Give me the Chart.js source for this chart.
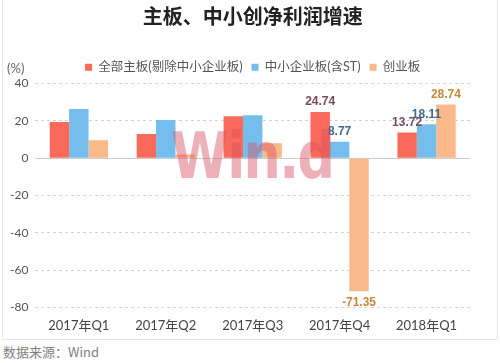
<!DOCTYPE html>
<html>
<head>
<meta charset="utf-8">
<script src="https://cdn.jsdelivr.net/npm/chart.js@4.4.1/dist/chart.umd.min.js"></script>
<style>
    body { margin: 0; background: #fff; width: 500px; height: 363px; overflow: hidden; position: relative; }
    #box { position: absolute; left: 2px; top: 0; width: 494px; height: 339px; border: 1px solid #e8e8e8; border-top: none; }
    #mark { position: absolute; left: 171px; top: 119px; font: bold 64px 'DejaVu Sans', sans-serif; color: rgba(215, 80, 95, 0.45); letter-spacing: -2px; transform: scaleX(0.82); transform-origin: left top; pointer-events: none; }
    #source { position: absolute; left: 3px; top: 342px; font: 13px 'Noto Sans CJK SC', sans-serif; color: #808080; }
</style>
</head>
<body>
<div id="box"><canvas id="profitChart"></canvas></div>
<div id="mark">Win.d</div>
<div id="source">数据来源：Wind</div>
<script>
const quarters = ['2017年Q1', '2017年Q2', '2017年Q3', '2017年Q4', '2018年Q1'];
const seriesNames = ['全部主板(剔除中小企业板)', '中小企业板(含ST)', '创业板'];
const mainBoard = [19.4, 12.9, 22.5, 24.74, 13.72];
const smeBoard = [26.3, 20.4, 23.0, 8.77, 18.11];
const gemBoard = [9.6, 2.0, 8.0, -71.35, 28.74];
const labelledQuarters = [3, 4];   // only these quarters carry value labels
const yTicks = [40, 20, 0, -20, -40, -60, -80];

const barColors = ['#f96a5a', '#74bdec', '#f9b98a'];
const labelColors = ['#7a4a57', '#3f6a8a', '#c98838'];
const font = "Lato, 'Noto Sans CJK SC', sans-serif";

// value labels over the last two quarters
const valueLabels = {
    id: 'valueLabels',
    afterDatasetsDraw(chart) {
        const ctx = chart.ctx;
        ctx.save();
        ctx.font = "bold 12px 'Liberation Sans', Arial, sans-serif";
        ctx.textAlign = 'center';
        chart.data.datasets.forEach((ds, i) => {
            const meta = chart.getDatasetMeta(i);
            labelledQuarters.forEach(q => {
                const bar = meta.data[q];
                const v = ds.data[q];
                ctx.fillStyle = labelColors[i];
                if (v >= 0) {
                    ctx.textBaseline = 'bottom';
                    ctx.fillText(v.toFixed(2), bar.x, bar.y - 4);
                } else {
                    ctx.textBaseline = 'top';
                    ctx.fillText(v.toFixed(2), bar.x, bar.y + 5);
                }
            });
        });
        ctx.restore();
    }
};

// solid zero line + "(%)" unit
const axisExtras = {
    id: 'axisExtras',
    beforeDatasetsDraw(chart) {
        const ctx = chart.ctx;
        const y0 = Math.round(chart.scales.y.getPixelForValue(0)) + 0.5;
        ctx.save();
        ctx.strokeStyle = '#cccccc';
        ctx.lineWidth = 1;
        ctx.beginPath();
        ctx.moveTo(chart.chartArea.left, y0);
        ctx.lineTo(chart.chartArea.right, y0);
        ctx.stroke();
        ctx.restore();
    },
    afterDraw(chart) {
        const ctx = chart.ctx;
        ctx.save();
        ctx.font = '13px ' + font;
        ctx.fillStyle = '#666';
        ctx.textAlign = 'left';
        ctx.textBaseline = 'middle';
        ctx.fillText('(%)', 4, chart.chartArea.top - 15);
        ctx.restore();
    }
};

const canvas = document.getElementById('profitChart');
canvas.width = 494;
canvas.height = 339;

new Chart(canvas.getContext('2d'), {
    type: 'bar',
    data: {
        labels: quarters,
        datasets: [mainBoard, smeBoard, gemBoard].map((d, i) => ({
            label: seriesNames[i],
            data: d,
            backgroundColor: barColors[i],
            categoryPercentage: 0.67,
            barPercentage: 1.0,
        })),
    },
    options: {
        responsive: false,
        animation: false,
        layout: { padding: { left: 0, right: 27, top: 0, bottom: 2 } },
        plugins: {
            title: {
                display: true,
                fullSize: false,
                text: '主板、中小创净利润增速',
                color: '#222',
                font: { family: "'Noto Sans CJK SC', sans-serif", size: 20, weight: 'bold' },
                padding: { top: 4, bottom: 24 },
            },
            legend: {
                fullSize: false,
                labels: {
                    boxWidth: 7,
                    boxHeight: 7,
                    color: '#555',
                    font: { family: font, size: 12.5 },
                    padding: 9,
                },
            },
            tooltip: { enabled: false },
        },
        scales: {
            x: {
                grid: { display: false },
                border: { display: false },
                ticks: { color: '#444', font: { family: font, size: 13 }, padding: 3 },
            },
            y: {
                min: -80,
                max: 40,
                afterBuildTicks: axis => { axis.ticks = yTicks.map(v => ({ value: v })); },
                border: { display: false, dash: [3, 3] },
                grid: {
                    color: ctx => ctx.tick.value === 0 ? 'rgba(0,0,0,0)' : '#d4d4d4',
                    lineWidth: 1,
                    drawTicks: false,
                },
                ticks: { color: '#555', font: { family: font, size: 12 }, padding: 7 },
            },
        },
    },
    plugins: [valueLabels, axisExtras],
});
</script>
</body>
</html>
